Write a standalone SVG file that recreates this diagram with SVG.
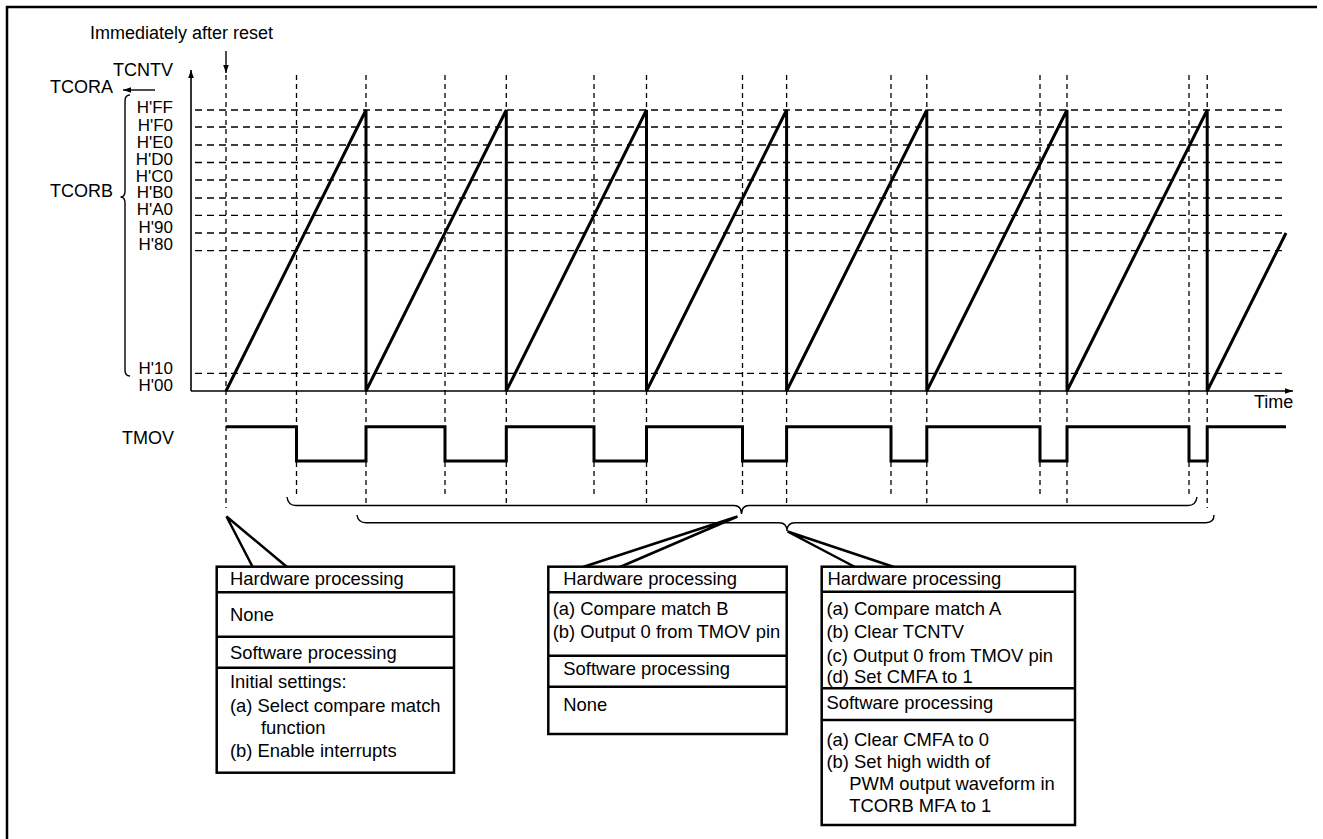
<svg xmlns="http://www.w3.org/2000/svg" width="1323" height="839" viewBox="0 0 1323 839">
<style>
text{font-family:"Liberation Sans",Arial,sans-serif;font-size:18px;fill:#000}
.bt{font-size:18.4px}
.lab{text-anchor:end;font-size:17px}
.grid{stroke:#000;stroke-width:1.3;stroke-dasharray:7 5;fill:none}
.vd{stroke:#000;stroke-width:1.3;stroke-dasharray:5 4;fill:none}
.thin{stroke:#000;stroke-width:1.4;fill:none}
.wave{stroke:#000;stroke-width:3;fill:none;stroke-linejoin:miter}
.box{stroke:#000;stroke-width:2.5;fill:#fff}
.div{stroke:#000;stroke-width:2.5}
.call{stroke:#000;stroke-width:2.5;fill:#fff;stroke-linejoin:miter}
</style>
<defs>
<marker id="ah" viewBox="0 0 10 10" refX="10" refY="5" markerWidth="8" markerHeight="8" markerUnits="userSpaceOnUse" orient="auto">
<path d="M0,1.5 L10,5 L0,8.5 Z" fill="#000"/>
</marker>
</defs>
<rect width="1323" height="839" fill="#fff"/>
<g id="frame">
<path d="M7,839 V7 H1317" class="thin" style="stroke-width:2.5"/>
</g>
<g id="labels">
<text x="90" y="39">Immediately after reset</text>
<text x="113" y="76">TCNTV</text>
<text x="50" y="93">TCORA</text>
<text x="50" y="197">TCORB</text>
<text class="lab" x="173" y="113">H'FF</text>
<text class="lab" x="173" y="130.5">H'F0</text>
<text class="lab" x="173" y="147.5">H'E0</text>
<text class="lab" x="173" y="164.5">H'D0</text>
<text class="lab" x="173" y="181.5">H'C0</text>
<text class="lab" x="173" y="198">H'B0</text>
<text class="lab" x="173" y="215">H'A0</text>
<text class="lab" x="173" y="232.5">H'90</text>
<text class="lab" x="173" y="250">H'80</text>
<text class="lab" x="173" y="373.5">H'10</text>
<text class="lab" x="173" y="391">H'00</text>
<text x="122" y="444">TMOV</text>
<text x="1254" y="408">Time</text>
</g>
<g id="connectors">
<path d="M130,95 Q125,95 125,101 V191 Q125,197 120.5,197 Q125,197 125,203 V370 Q125,376 130,376" class="thin"/>
<line x1="155" y1="90" x2="123" y2="90" class="thin" marker-end="url(#ah)"/>
<line x1="226" y1="51" x2="226" y2="73" class="thin" marker-end="url(#ah)"/>
<line x1="191" y1="391" x2="191" y2="70" class="thin" style="stroke-width:1.6" marker-end="url(#ah)"/>
<line x1="191" y1="391" x2="1293" y2="391" class="thin" style="stroke-width:1.6" marker-end="url(#ah)"/>
<g id="gridlines">
<line x1="195" y1="110" x2="1283" y2="110" class="grid"/>
<line x1="195" y1="127" x2="1283" y2="127" class="grid"/>
<line x1="195" y1="145" x2="1283" y2="145" class="grid"/>
<line x1="195" y1="162.5" x2="1283" y2="162.5" class="grid"/>
<line x1="195" y1="180" x2="1283" y2="180" class="grid"/>
<line x1="195" y1="198" x2="1283" y2="198" class="grid"/>
<line x1="195" y1="215.3" x2="1283" y2="215.3" class="grid"/>
<line x1="195" y1="233" x2="1283" y2="233" class="grid"/>
<line x1="195" y1="250.7" x2="1283" y2="250.7" class="grid"/>
<line x1="195" y1="373.3" x2="1283" y2="373.3" class="grid"/>
</g>
<g id="verticals">
<line x1="226" y1="75" x2="226" y2="508" class="vd"/>
<line x1="296.5" y1="75" x2="296.5" y2="497" class="vd"/>
<line x1="366" y1="75" x2="366" y2="506" class="vd"/>
<line x1="445" y1="75" x2="445" y2="497" class="vd"/>
<line x1="506.3" y1="75" x2="506.3" y2="506" class="vd"/>
<line x1="594" y1="75" x2="594" y2="497" class="vd"/>
<line x1="646.5" y1="75" x2="646.5" y2="506" class="vd"/>
<line x1="742.5" y1="75" x2="742.5" y2="497" class="vd"/>
<line x1="786.6" y1="75" x2="786.6" y2="506" class="vd"/>
<line x1="891" y1="75" x2="891" y2="497" class="vd"/>
<line x1="926.8" y1="75" x2="926.8" y2="506" class="vd"/>
<line x1="1040" y1="75" x2="1040" y2="497" class="vd"/>
<line x1="1067" y1="75" x2="1067" y2="506" class="vd"/>
<line x1="1189" y1="75" x2="1189" y2="497" class="vd"/>
<line x1="1207.2" y1="75" x2="1207.2" y2="508" class="vd"/>
</g>
<path id="ramp" class="wave" d="M226,391 L366,110 V391 L506.3,110 V391 L646.5,110 V391 L786.6,110 V391 L926.8,110 V391 L1067,110 V391 L1207.2,110 V391 L1286,233"/>
<path id="tmov" class="wave" d="M226,426.7 H296.5 V461 H366 V426.7 H445 V461 H506.3 V426.7 H594 V461 H646.5 V426.7 H742.5 V461 H786.6 V426.7 H891 V461 H926.8 V426.7 H1040 V461 H1067 V426.7 H1189 V461 H1207.2 V426.7 H1286"/>
<path id="braceB" class="thin" d="M287,497 Q288,505.5 296,505.5 H733.5 Q741.5,505.5 741.5,514 Q741.5,505.5 749.5,505.5 H1188 Q1196,505.5 1197,497"/>
<path id="braceA" class="thin" d="M357,515 Q358,522.7 366,522.7 H779 Q787,522.7 787,531 Q787,522.7 795,522.7 H1206 Q1214,522.7 1214,515"/>
<polyline class="call" points="252.7,567 226.5,516.5 287,567"/>
<polyline class="call" points="583,567 737.5,516.5 620,567"/>
<polyline class="call" points="855,567 787.5,531.5 894,567"/>
</g>
<g id="box1">
<rect class="box" x="216.7" y="566.7" width="237.3" height="206"/>
<line class="div" x1="216.7" y1="592.3" x2="454" y2="592.3"/>
<line class="div" x1="216.7" y1="636.7" x2="454" y2="636.7"/>
<line class="div" x1="216.7" y1="667.7" x2="454" y2="667.7"/>
<text class="bt" x="230" y="585">Hardware processing</text>
<text class="bt" x="230" y="620.5">None</text>
<text class="bt" x="230" y="659">Software processing</text>
<text class="bt" x="230" y="688">Initial settings:</text>
<text class="bt" x="230" y="711.5">(a) Select compare match</text>
<text class="bt" x="261" y="734">function</text>
<text class="bt" x="230" y="756.5">(b) Enable interrupts</text>
</g>
<g id="box2">
<rect class="box" x="548.3" y="566.7" width="238.4" height="167.3"/>
<line class="div" x1="548.3" y1="592.3" x2="786.7" y2="592.3"/>
<line class="div" x1="548.3" y1="655.7" x2="786.7" y2="655.7"/>
<line class="div" x1="548.3" y1="686.7" x2="786.7" y2="686.7"/>
<text class="bt" x="563.3" y="585">Hardware processing</text>
<text class="bt" x="552.7" y="615">(a) Compare match B</text>
<text class="bt" x="552.7" y="637.7">(b) Output 0 from TMOV pin</text>
<text class="bt" x="563.3" y="675">Software processing</text>
<text class="bt" x="563.3" y="710.7">None</text>
</g>
<g id="box3">
<rect class="box" x="821.7" y="566.7" width="253.3" height="258.3"/>
<line class="div" x1="821.7" y1="591.7" x2="1075" y2="591.7"/>
<line class="div" x1="821.7" y1="688.3" x2="1075" y2="688.3"/>
<line class="div" x1="821.7" y1="720" x2="1075" y2="720"/>
<text class="bt" x="827.5" y="585">Hardware processing</text>
<text class="bt" x="826.5" y="615">(a) Compare match A</text>
<text class="bt" x="826.5" y="638.3">(b) Clear TCNTV</text>
<text class="bt" x="826.5" y="661.7">(c) Output 0 from TMOV pin</text>
<text class="bt" x="826.5" y="683.3">(d) Set CMFA to 1</text>
<text class="bt" x="826.5" y="709.3">Software processing</text>
<text class="bt" x="826.5" y="746">(a) Clear CMFA to 0</text>
<text class="bt" x="826.5" y="768.3">(b) Set high width of</text>
<text class="bt" x="849.3" y="790">PWM output waveform in</text>
<text class="bt" x="849.3" y="811.7">TCORB MFA to 1</text>
</g>
</svg>
